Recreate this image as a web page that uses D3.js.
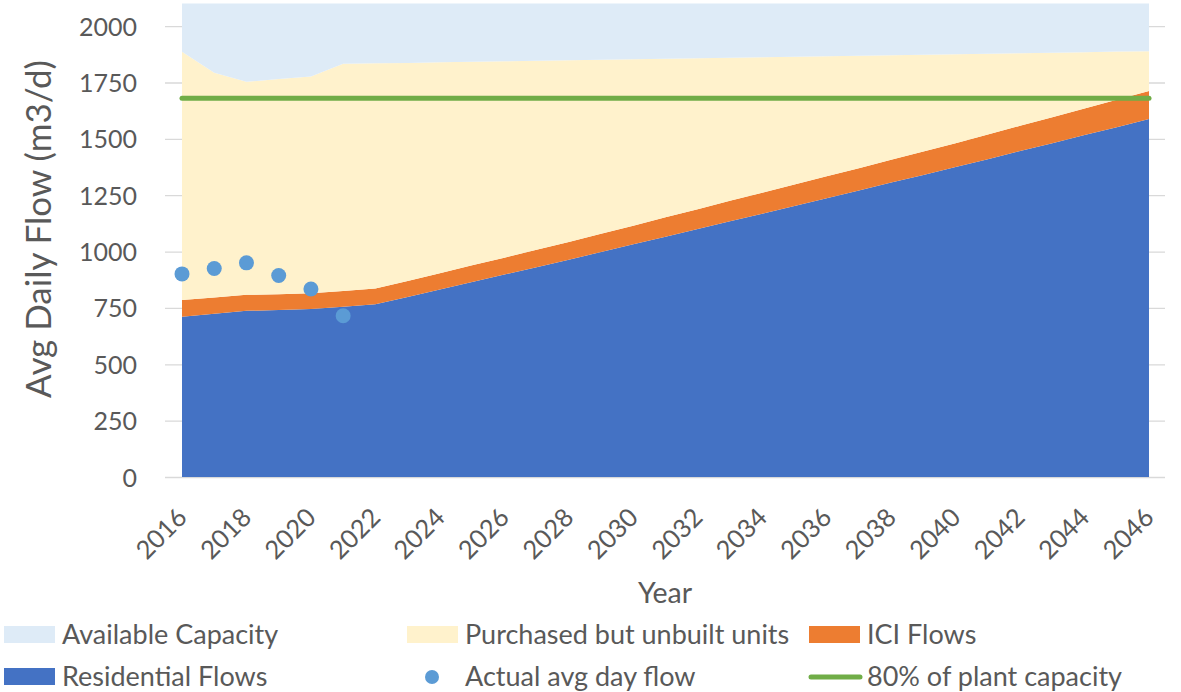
<!DOCTYPE html>
<html>
    <head>
        <title>Avg daily flow projection</title>
        <script src="https://d3js.org/d3.v7.min.js"></script>
        <style>
            body { margin: 0; background: #ffffff; }
            text { font-family: Lato, "Open Sans", sans-serif; fill: #595959; }
        </style>
    </head>
    <body>

    </body>
    <script>
        var w = 1181;
        var h = 692;

        // data
        var years = d3.range(2016, 2047);
        var residential = [711, 724, 737, 741, 745, 755, 766, 799, 832, 865, 898, 931, 964, 998, 1032, 1066,
                           1100, 1134, 1168, 1202, 1237, 1271, 1306, 1340, 1375, 1410, 1446, 1481, 1517, 1552, 1588];
        var ici = [74, 72, 71, 70, 70, 70, 70, 71, 72, 74, 75, 77, 79, 81, 83, 86,
                   88, 91, 93, 95, 97, 99, 101, 104, 106, 109, 112, 115, 118, 121, 124];
        var purchased = [1101, 997, 945, 954, 962, 1008, 999, 967, 936, 903, 871, 838, 806, 772, 738, 703,
                         670, 635, 601, 567, 532, 499, 464, 429, 394, 359, 322, 286, 249, 214, 177];
        var available = [214, 307, 347, 335, 323, 267, 265, 263, 260, 258, 256, 254, 251, 249, 247, 245,
                         242, 240, 238, 236, 234, 231, 229, 227, 225, 222, 220, 218, 216, 213, 211];
        var actualYears = [2016, 2017, 2018, 2019, 2020, 2021];
        var actualFlow = [901, 925, 950, 894, 834, 715];
        var plantCapacity80 = 1680;
        var yTicks = [0, 250, 500, 750, 1000, 1250, 1500, 1750, 2000];
        var xTickYears = d3.range(2016, 2047, 2);

        var keys = ["residential", "ici", "purchased", "available"];
        var colors = {residential: "#4472c4", ici: "#ed7d31", purchased: "#fff2cc", available: "#deebf7"};

        var table = years.map(function(y, i) {
            return {year: y, residential: residential[i], ici: ici[i], purchased: purchased[i], available: available[i]};
        });

        var svg = d3.select("body")
                    .append("svg")
                    .attr("width", w)
                    .attr("height", h);

        var x = d3.scalePoint().domain(years).range([182, 1149]);
        var y = d3.scaleLinear().domain([0, 2100]).range([477, 3.6]);

        // gridlines + y labels
        var yAxis = svg.append("g")
            .attr("transform", "translate(165,0)")
            .call(d3.axisLeft(y).tickValues(yTicks).tickFormat(d3.format("d")).tickSize(-1000).tickPadding(28));
        yAxis.select(".domain").remove();
        yAxis.selectAll("line").attr("stroke", "#d9d9d9").attr("stroke-width", 1.3);
        yAxis.selectAll("text")
            .style("font-size", "25px")
            .attr("dy", "0.36em");

        // stacked areas
        var series = d3.stack().keys(keys)(table);
        var area = d3.area()
            .x(function(d) { return x(d.data.year); })
            .y0(function(d) { return y(d[0]); })
            .y1(function(d) { return y(d[1]); });

        svg.selectAll("path.layer")
            .data(series)
            .enter()
            .append("path")
                .attr("class", "layer")
                .attr("d", area)
                .attr("fill", function(d) { return colors[d.key]; });

        // 80% line
        svg.append("path")
            .datum(years)
            .attr("d", d3.line().x(function(d) { return x(d); }).y(function() { return y(plantCapacity80); }))
            .attr("fill", "none")
            .attr("stroke", "#70ad47")
            .attr("stroke-width", 5)
            .attr("stroke-linecap", "round");

        // actual flow points
        svg.selectAll("circle.actual")
            .data(actualFlow)
            .enter()
            .append("circle")
                .attr("class", "actual")
                .attr("cx", function(d, i) { return x(actualYears[i]); })
                .attr("cy", function(d) { return y(d); })
                .attr("r", 7.5)
                .attr("fill", "#5b9bd5");

        // x axis labels
        var xAxis = svg.append("g")
            .attr("transform", "translate(0,477)")
            .call(d3.axisBottom(x).tickValues(xTickYears).tickSize(0));
        xAxis.select(".domain").remove();
        xAxis.selectAll("text")
            .style("font-size", "25.5px")
            .attr("x", 0).attr("y", 0).attr("dy", 0)
            .attr("text-anchor", "end")
            .attr("transform", "translate(6,42) rotate(-45)");

        // axis titles
        svg.append("text")
            .attr("x", 665).attr("y", 603)
            .attr("text-anchor", "middle")
            .style("font-size", "28.5px")
            .text("Year");

        svg.append("text")
            .attr("transform", "translate(51,229) rotate(-90)")
            .attr("text-anchor", "middle")
            .style("font-size", "35px")
            .text("Avg Daily Flow (m3/d)");

        // legend
        var legendItems = [
            {label: "Available Capacity", kind: "rect", color: colors.available, x: 4, y: 635},
            {label: "Purchased but unbuilt units", kind: "rect", color: colors.purchased, x: 407, y: 635},
            {label: "ICI Flows", kind: "rect", color: colors.ici, x: 809, y: 635},
            {label: "Residential Flows", kind: "rect", color: colors.residential, x: 4, y: 677},
            {label: "Actual avg day flow", kind: "dot", color: "#5b9bd5", x: 407, y: 677},
            {label: "80% of plant capacity", kind: "line", color: "#70ad47", x: 809, y: 677}
        ];

        var legend = svg.selectAll("g.legend")
            .data(legendItems)
            .enter()
            .append("g")
                .attr("class", "legend")
                .attr("transform", function(d) { return "translate(" + d.x + "," + d.y + ")"; });

        legend.filter(function(d) { return d.kind == "rect"; })
            .append("rect")
            .attr("x", 0).attr("y", -9)
            .attr("width", 51).attr("height", 17)
            .attr("fill", function(d) { return d.color; });

        legend.filter(function(d) { return d.kind == "dot"; })
            .append("circle")
            .attr("cx", 25).attr("cy", 0).attr("r", 7)
            .attr("fill", function(d) { return d.color; });

        legend.filter(function(d) { return d.kind == "line"; })
            .append("line")
            .attr("x1", 2).attr("x2", 51).attr("y1", 0).attr("y2", 0)
            .attr("stroke", function(d) { return d.color; })
            .attr("stroke-width", 5)
            .attr("stroke-linecap", "round");

        legend.append("text")
            .attr("x", 58).attr("y", 0)
            .attr("dy", "0.35em")
            .style("font-size", "27px")
            .text(function(d) { return d.label; });
    </script>
</html>
